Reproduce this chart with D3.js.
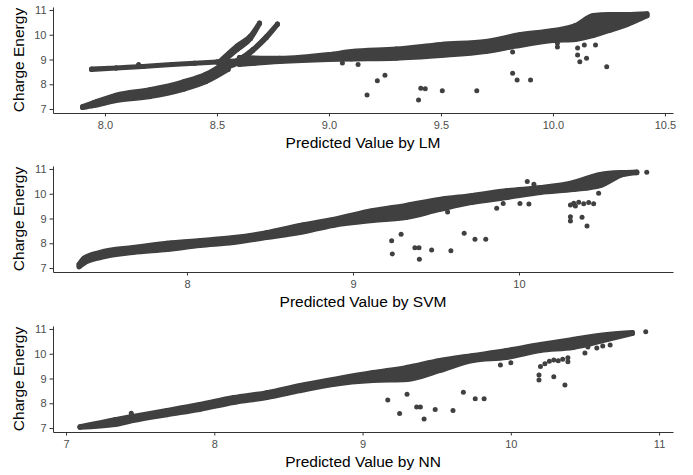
<!DOCTYPE html>
<html><head><meta charset="utf-8">
<script src="https://cdn.jsdelivr.net/npm/d3@7"></script>
<style>body{margin:0;background:#fff}svg{display:block}</style>
</head><body><svg id="c" width="693" height="475"></svg>
<script>
// ---------- data ----------
const yTicks = [7, 8, 9, 10, 11];
const lmTicks = [8.0, 8.5, 9.0, 9.5, 10.0, 10.5];
const svmTicks = [8, 9, 10];
const nnTicks = [7, 8, 9, 10, 11];
const xTitles = ["Predicted Value by LM", "Predicted Value by SVM", "Predicted Value by NN"];
const yTitle = "Charge Energy";

// dense point bands: [x, lower edge, upper edge]
const lmBandLow = [[7.90,7.06,7.10],[7.95,7.14,7.26],[8.05,7.34,7.56],[8.20,7.50,7.78],[8.35,7.80,8.10],[8.45,8.10,8.40],[8.55,8.60,8.95]];
const lmLineA = [[7.94,8.60,8.62],[8.05,8.66,8.66],[8.17,8.72,8.72],[8.30,8.80,8.80],[8.40,8.85,8.85],[8.50,8.90,8.90],[8.60,8.95,8.95]];
const lmBranchL = [[8.51,8.80,8.90],[8.59,9.40,9.55],[8.65,9.85,9.95],[8.69,10.45,10.47]];
const lmBranchR = [[8.55,8.70,8.75],[8.59,8.85,8.95],[8.66,9.36,9.40],[8.72,9.88,9.92],[8.77,10.42,10.43]];
const lmBandMain = [[8.60,8.80,9.08],[8.78,8.92,9.05],[9.00,9.00,9.20],[9.10,9.02,9.32],[9.30,9.05,9.42],[9.50,9.16,9.61],[9.70,9.32,9.73],[9.85,9.56,10.00],[10.00,9.77,10.17],[10.10,9.81,10.37],[10.18,9.97,10.78],[10.25,10.17,10.82],[10.33,10.41,10.82],[10.42,10.77,10.85]];
const lmOutliers = [[9.17,7.57],[9.216,8.14],[9.25,8.36],[9.40,7.36],[9.41,7.84],[9.43,7.82],[9.506,7.74],[9.66,7.74],[9.82,8.44],[9.84,8.17],[9.90,8.17],[10.24,8.71],[10.11,9.18],[10.12,8.91],[10.15,9.05],[10.02,9.67],[10.02,9.50],[10.11,9.46],[10.14,9.59],[10.19,9.59],[9.06,8.86],[9.13,8.80],[8.15,8.80],[8.67,8.85],[9.82,9.30]];

const svmBand = [[7.35,7.05,7.15],[7.38,7.20,7.40],[7.476,7.42,7.63],[7.675,7.63,7.83],[7.88,7.75,8.00],[8.08,7.91,8.11],[8.28,8.03,8.23],[8.48,8.23,8.43],[8.68,8.43,8.72],[8.88,8.72,8.96],[9.12,8.92,9.32],[9.32,9.04,9.53],[9.52,9.36,9.77],[9.72,9.65,9.93],[9.93,9.85,10.13],[10.13,10.05,10.25],[10.33,10.17,10.46],[10.49,10.33,10.78],[10.63,10.78,10.86],[10.71,10.85,10.88]];
const svmOutliers = [[9.233,8.10],[9.237,7.57],[9.29,8.36],[9.373,7.82],[9.398,7.82],[9.40,7.35],[9.474,7.73],[9.59,7.70],[9.67,8.40],[9.735,8.16],[9.80,8.16],[9.866,9.41],[9.905,9.61],[10.006,9.61],[10.06,9.59],[10.05,10.49],[10.09,10.38],[10.31,9.55],[10.33,9.62],[10.36,9.66],[10.39,9.60],[10.42,9.65],[10.45,9.60],[10.34,9.50],[10.31,9.07],[10.31,8.90],[10.38,9.05],[10.41,8.70],[10.48,10.02],[9.57,9.26],[10.77,10.87]];

const nnBand = [[7.094,7.03,7.05],[7.33,7.14,7.34],[7.45,7.30,7.47],[7.68,7.54,7.71],[7.90,7.75,7.95],[8.13,8.03,8.23],[8.355,8.23,8.43],[8.58,8.51,8.72],[8.80,8.76,8.96],[9.07,8.92,9.24],[9.30,8.96,9.45],[9.52,9.32,9.73],[9.745,9.73,9.93],[9.97,9.85,10.13],[10.20,10.13,10.37],[10.42,10.25,10.58],[10.65,10.57,10.78],[10.82,10.82,10.86]];
const nnOutliers = [[9.17,8.13],[9.25,7.59],[9.30,8.36],[9.365,7.85],[9.39,7.85],[9.415,7.36],[9.49,7.75],[9.61,7.71],[9.68,8.44],[9.76,8.18],[9.82,8.18],[9.93,9.55],[10.00,9.64],[10.19,9.14],[10.19,8.94],[10.29,9.07],[10.365,8.74],[10.20,9.48],[10.23,9.60],[10.26,9.70],[10.29,9.75],[10.32,9.72],[10.35,9.78],[10.385,9.84],[10.385,9.68],[10.50,10.03],[10.52,10.27],[10.58,10.23],[10.62,10.31],[10.67,10.35],[10.91,10.89],[7.44,7.60]];

// ---------- layout ----------
const ptColor = "#404040", R = 2.5;
const panels = [
  {xDomain:[7.768,10.536], ticks:lmTicks, fmt:d3.format(".1f"), top:7, bottom:113, bands:[lmBandLow,lmLineA,lmBranchL,lmBranchR,lmBandMain], pts:lmOutliers, title:xTitles[0]},
  {xDomain:[7.193,10.928], ticks:svmTicks, fmt:d3.format("d"), top:166, bottom:272, bands:[svmBand], pts:svmOutliers, title:xTitles[1]},
  {xDomain:[6.912,11.094], ticks:nnTicks, fmt:d3.format("d"), top:326, bottom:432, bands:[nnBand], pts:nnOutliers, title:xTitles[2]}
];
const left = 53, right = 673;
const svg = d3.select("#c");
const font = "'Liberation Sans', Arial, sans-serif";

panels.forEach(p => {
  const x = d3.scaleLinear().domain(p.xDomain).range([left, right]);
  const y = d3.scaleLinear().domain([6.84, 11.12]).range([p.bottom, p.top]);
  const g = svg.append("g");

  const area = d3.area().x(d => x(d[0])).y0(d => y(d[1])).y1(d => y(d[2])).curve(d3.curveMonotoneX);
  p.bands.forEach(b => {
    g.append("path").datum(b).attr("d", area)
      .attr("fill", ptColor).attr("stroke", ptColor)
      .attr("stroke-width", 2*R).attr("stroke-linejoin", "round").attr("stroke-linecap", "round");
    g.selectAll(null).data(b.flatMap(d => [[d[0], d[1]], [d[0], d[2]]])).join("circle")
      .attr("cx", d => x(d[0])).attr("cy", d => y(d[1])).attr("r", R).attr("fill", ptColor);
  });
  g.selectAll(null).data(p.pts).join("circle")
    .attr("cx", d => x(d[0])).attr("cy", d => y(d[1])).attr("r", R).attr("fill", ptColor);

  const xa = g.append("g").attr("transform", `translate(0,${p.bottom})`)
    .call(d3.axisBottom(x).tickValues(p.ticks).tickFormat(p.fmt).tickSize(3.5).tickSizeOuter(0).tickPadding(5));
  const ya = g.append("g").attr("transform", `translate(${left},0)`)
    .call(d3.axisLeft(y).tickValues(yTicks).tickFormat(d3.format("d")).tickSize(3.5).tickSizeOuter(0).tickPadding(3));
  [xa, ya].forEach(a => {
    a.select(".domain").attr("stroke", "#333");
    a.selectAll(".tick line").attr("stroke", "#333");
    a.selectAll(".tick text").attr("fill", "#4d4d4d").style("font-size", "11px").style("font-family", font);
  });

  g.append("text").attr("x", (left + right) / 2).attr("y", p.bottom + 34.5)
    .attr("text-anchor", "middle").style("font-size", "15.5px").style("font-family", font).attr("fill", "#000")
    .text(p.title);
  g.append("text").attr("transform", `translate(24,${(p.top + p.bottom) / 2}) rotate(-90)`)
    .attr("text-anchor", "middle").style("font-size", "15.5px").style("font-family", font).attr("fill", "#000")
    .text(yTitle);
});
</script></body></html>
